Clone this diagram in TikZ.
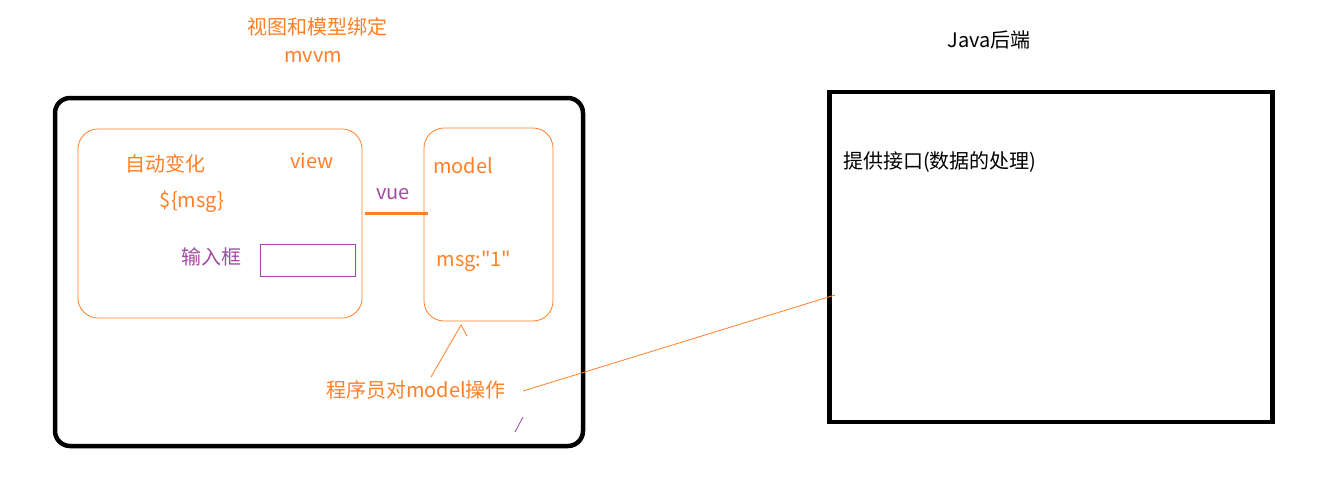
\documentclass[tikz,border=0pt]{standalone}
\usepackage{fontspec}
\setmainfont{Noto Sans CJK SC}[Ligatures=TeXOff]
\usepackage{tikz}
\definecolor{paintorange}{RGB}{255,127,39}
\definecolor{paintpurple}{RGB}{163,73,164}

\begin{document}
\begin{tikzpicture}[x=1pt, y=-1pt,
    every node/.style={font=\fontsize{20}{23}\selectfont, inner sep=0pt},
    orange text/.style={text=paintorange},
    purple text/.style={text=paintpurple},
    frame node/.style={draw, line width=4.5pt, rounded corners=15pt},
    part node/.style={draw=paintorange, line width=0.8pt, rounded corners=20pt},
    back node/.style={draw, line width=4.5pt},]

\useasboundingbox (0,0) rectangle (1338,479);

% boxes
\node[frame node, minimum width=528pt, minimum height=348pt] (frame) at (319,272) {};
\node[part node, minimum width=284pt, minimum height=189pt] (view) at (220,223.5) {};
\node[part node, minimum width=129pt, minimum height=193pt] (model) at (488.5,224.5) {};
\node[draw=paintpurple, line width=0.8pt, minimum width=95pt, minimum height=32pt] (input) at (307.5,260) {};
\node[back node, minimum width=443pt, minimum height=330pt] (java) at (1051,257) {};

% labels
\node[orange text] (title) at (317,27) {视图和模型绑定};
\node[orange text] (mvvm) at (313,57) {mvvm};
\node[orange text] (auto) at (165,164) {自动变化};
\node[orange text] (viewlabel) at (312,161) {view};
\node[orange text] (msg) at (192,202) {\$\{msg\}};
\node[purple text] (inputlabel) at (211,257) {输入框};
\node[purple text] (vue) at (393,194) {vue};
\node[orange text] (modellabel) at (463,166) {model};
\node[orange text] (msgvalue) at (474,261) {msg:"1"};
\node[orange text] (op) at (416,390) {程序员对model操作};
\node (javalabel) at (989,40) {Java后端};
\node[anchor=west] (api) at (843,162) {提供接口(数据的处理)};

\coordinate (vue left) at (365,213);
\coordinate (vue right) at (428,213);
\coordinate (op tail) at (431,377);
\coordinate (op tip) at (461,325);
\coordinate (op hook) at (467,336);
\coordinate (call start) at (523,391);
\coordinate (call end) at (835,295);
\coordinate (stray a) at (515,432);
\coordinate (stray b) at (523,417);

\path[draw=paintorange, line width=0.8pt]
(vue left) edge [line width=3pt] (vue right)
(op tail) edge (op tip)
(op tip) edge (op hook)
(call start) edge (call end);

\path (stray a) edge [draw=paintpurple, line width=0.8pt] (stray b);

\end{tikzpicture}
\end{document}
